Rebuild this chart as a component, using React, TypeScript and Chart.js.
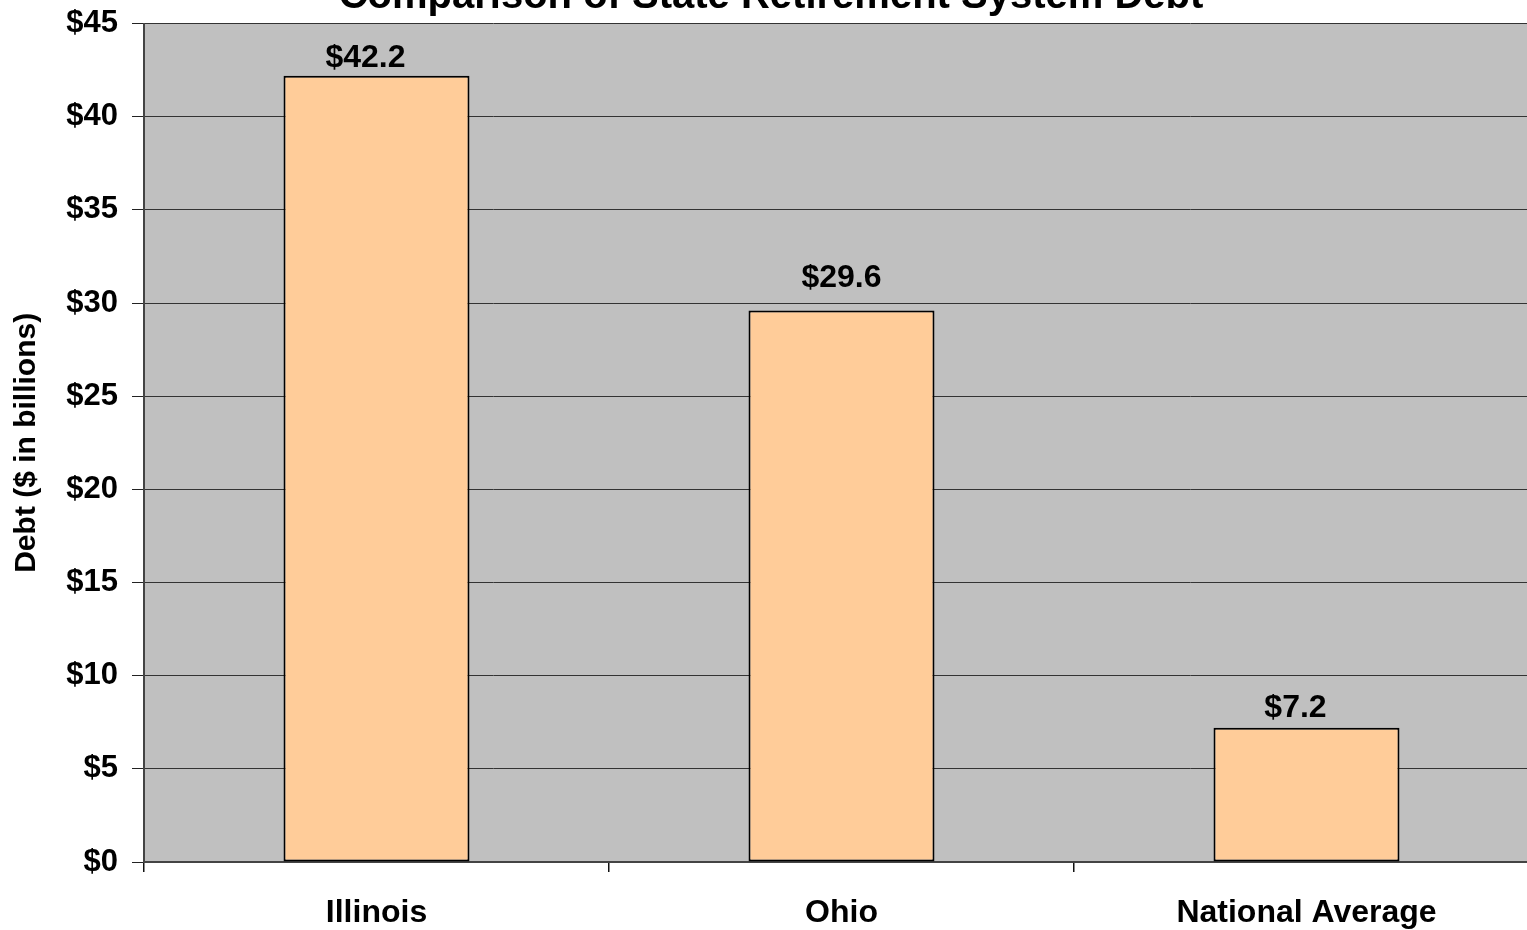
import React, { useEffect, useRef } from "react";
import { Chart, registerables } from "chart.js";

Chart.register(...registerables);

const TITLE = "Comparison of State Retirement System Debt";
const Y_TITLE = "Debt ($ in billions)";
const categories = ["Illinois", "Ohio", "National Average"];
const debtValues = [42.2, 29.6, 7.2];
const valueLabels = ["$42.2", "$29.6", "$7.2"];
const Y_MIN = 0;
const Y_MAX = 45;
const Y_STEP = 5;

// label nudges (style only, relative to bar top-centre)
const LABEL_DX = [-11, 0, -11];
const LABEL_DY = [-9, -24, -11];

const FONT = "'Liberation Sans', Arial, sans-serif";
const CANVAS_SHIFT = 9;

const titlePlugin = {
  id: "clippedTitle",
  afterDraw(chart: any) {
    const ctx = chart.ctx;
    ctx.save();
    ctx.font = `bold 40px ${FONT}`;
    ctx.fillStyle = "#000";
    ctx.textAlign = "center";
    ctx.textBaseline = "alphabetic";
    ctx.fillText(TITLE, 771, chart.chartArea.top - 16);
    ctx.restore();
  },
};

const valueLabelPlugin = {
  id: "valueLabels",
  afterDatasetsDraw(chart: any) {
    const ctx = chart.ctx;
    const meta = chart.getDatasetMeta(0);
    ctx.save();
    ctx.font = `bold 32px ${FONT}`;
    ctx.fillStyle = "#000";
    ctx.textAlign = "center";
    ctx.textBaseline = "alphabetic";
    meta.data.forEach((bar: any, i: number) => {
      ctx.fillText(valueLabels[i], bar.x + LABEL_DX[i], bar.y + LABEL_DY[i]);
    });
    ctx.restore();
  },
};

export default function App() {
  const ref = useRef<HTMLCanvasElement | null>(null);
  useEffect(() => {
    if (!ref.current) return;
    const chart = new Chart(ref.current, {
      type: "bar",
      data: {
        labels: categories,
        datasets: [
          {
            data: debtValues,
            backgroundColor: "#ffcc99",
            borderColor: "#000000",
            borderWidth: 2,
            borderSkipped: false,
            barPercentage: 0.4,
            categoryPercentage: 1,
          },
        ],
      },
      options: {
        responsive: false,
        animation: false,
        devicePixelRatio: 1,
        layout: { padding: { top: 15, right: 1, bottom: 0, left: 0 } },
        plugins: {
          legend: { display: false },
          title: { display: false },
          tooltip: { enabled: false },
        },
        scales: {
          x: {
            grid: {
              offset: true,
              drawOnChartArea: false,
              drawTicks: true,
              tickLength: 10,
              color: "#111",
              lineWidth: 1.5,
            },
            border: { display: true, color: "#444", width: 2 },
            ticks: {
              color: "#000",
              font: { family: FONT, size: 32, weight: "bold" },
              padding: 22,
            },
            afterFit(scale: any) {
              scale.height = 68;
            },
          },
          y: {
            min: Y_MIN,
            max: Y_MAX,
            ticks: {
              stepSize: Y_STEP,
              color: "#000",
              font: { family: FONT, size: 31, weight: "bold" },
              padding: 14,
              callback: (v: any) => "$" + v,
            },
            grid: {
              color: "#333",
              lineWidth: 1,
              tickLength: 12,
              tickColor: "#222",
            },
            border: { display: true, color: "#444", width: 2 },
            title: {
              display: true,
              text: Y_TITLE,
              color: "#000",
              font: { family: FONT, size: 30, weight: "bold" },
              padding: { top: 9, bottom: 0 },
            },
            afterFit(scale: any) {
              scale.width = 144;
            },
          },
        },
      },
      plugins: [
        {
          id: "plotBg",
          beforeDraw(chart: any) {
            const { ctx, chartArea } = chart;
            ctx.save();
            ctx.fillStyle = "#c0c0c0";
            ctx.fillRect(chartArea.left, chartArea.top, chartArea.right - chartArea.left, chartArea.bottom - chartArea.top);
            ctx.restore();
          },
        },
        valueLabelPlugin,
        titlePlugin,
      ],
    } as any);
    return () => chart.destroy();
  }, []);

  return (
    <div
      style={{
        position: "fixed",
        left: 0,
        top: 0,
        width: 1527,
        height: 930,
        overflow: "hidden",
        background: "#fff",
      }}
    >
      <canvas
        ref={ref}
        width={1540}
        height={930 + CANVAS_SHIFT}
        style={{ position: "absolute", left: 0, top: -CANVAS_SHIFT }}
      />
    </div>
  );
}
